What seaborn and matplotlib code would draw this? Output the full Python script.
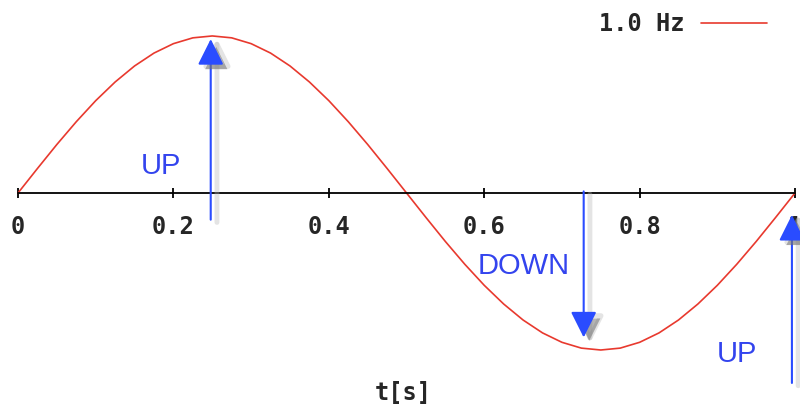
import matplotlib
matplotlib.use('Agg')
import matplotlib.pyplot as plt
import matplotlib.patheffects as pe
import seaborn as sns
import pandas as pd

# one period of the 1.0 Hz signal
t_s = [0.0, 0.025, 0.05, 0.075, 0.1, 0.125, 0.15, 0.175, 0.2, 0.225,
       0.25, 0.275, 0.3, 0.325, 0.35, 0.375, 0.4, 0.425, 0.45, 0.475,
       0.5, 0.525, 0.55, 0.575, 0.6, 0.625, 0.65, 0.675, 0.7, 0.725,
       0.75, 0.775, 0.8, 0.825, 0.85, 0.875, 0.9, 0.925, 0.95, 0.975, 1.0]
amplitude = [0.0, 0.156, 0.309, 0.454, 0.588, 0.707, 0.809, 0.891, 0.951, 0.988,
             1.0, 0.988, 0.951, 0.891, 0.809, 0.707, 0.588, 0.454, 0.309, 0.156,
             0.0, -0.156, -0.309, -0.454, -0.588, -0.707, -0.809, -0.891, -0.951, -0.988,
             -1.0, -0.988, -0.951, -0.891, -0.809, -0.707, -0.588, -0.454, -0.309, -0.156, 0.0]

tick_values = [0, 0.2, 0.4, 0.6, 0.8, 1.0]
tick_labels = ['0', '0.2', '0.4', '0.6', '0.8', '1']

arrow_labels = ['UP', 'DOWN', 'UP']
arrow_x = [0.248, 0.728, 0.996]
arrow_tail = [-0.17, 0.01, -1.21]
arrow_tip = [0.98, -0.92, -0.14]
label_x = [0.184, 0.651, 0.925]
label_y = [0.172, -0.465, -1.025]

df = pd.DataFrame({'t': t_s, 'y': amplitude})

sns.set_theme(style='white')
plt.rcParams['font.family'] = ['DejaVu Sans Mono']

fig = plt.figure(figsize=(8, 4.07), dpi=100)
ax = fig.add_axes([0, 0, 1, 1])

sns.lineplot(data=df, x='t', y='y', color='#e8392e', linewidth=1.2, label='1.0 Hz', ax=ax)

ax.set_xlim(-0.0232, 1.0064)
ax.set_ylim(-1.363, 1.229)

# axis through zero
for s in ['top', 'right', 'left']:
    ax.spines[s].set_visible(False)
ax.spines['bottom'].set_position(('data', 0))
ax.spines['bottom'].set_bounds(0, 1)
ax.spines['bottom'].set_color('black')
ax.spines['bottom'].set_linewidth(1.3)
ax.set_yticks([])
ax.set_ylabel('')
ax.set_xticks(tick_values)
ax.set_xticklabels(tick_labels, fontsize=17, fontweight='bold')
ax.tick_params(axis='x', direction='inout', length=7, width=1.3, color='black', pad=12, bottom=True)

ax.set_xlabel('t[s]', fontsize=17, fontweight='bold', va='center')
ax.xaxis.set_label_coords(0.504, 0.034)

shadow = [pe.SimpleLineShadow(offset=(4.5, -2), shadow_color='0.7', alpha=0.35, linewidth=3.5),
          pe.SimplePatchShadow(offset=(4, -4), shadow_rgbFace='0.35', alpha=0.45),
          pe.Normal()]

for i in range(len(arrow_labels)):
    ax.annotate('', xy=(arrow_x[i], arrow_tip[i]), xytext=(arrow_x[i], arrow_tail[i]),
                arrowprops=dict(arrowstyle='-|>,head_length=0.8,head_width=0.4',
                                mutation_scale=20, color='#2a4cff', lw=1.5,
                                shrinkA=0, shrinkB=0, path_effects=shadow))
    ax.text(label_x[i], label_y[i], arrow_labels[i], color='#3344ee', fontsize=21,
            family='Liberation Sans', ha='center', va='center')

leg = ax.legend(loc='center right', bbox_to_anchor=(767 / 800, 1 - 24 / 407),
                frameon=False, markerfirst=False, handlelength=2.8, handletextpad=0.7,
                borderpad=0, borderaxespad=0,
                prop={'family': 'DejaVu Sans Mono', 'weight': 'bold', 'size': 17})

fig.savefig('out.png', dpi=100)
